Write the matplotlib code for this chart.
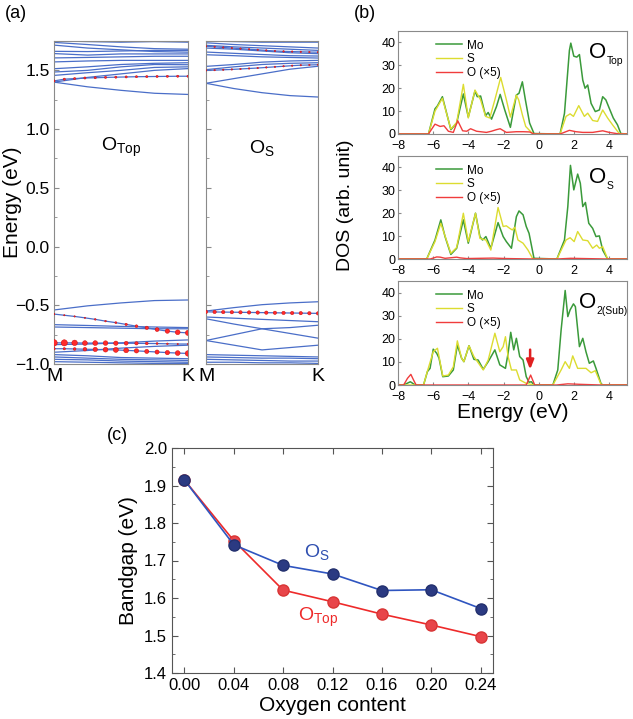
import numpy as np
import matplotlib
matplotlib.use("Agg")
import matplotlib.pyplot as plt
from matplotlib.ticker import MultipleLocator

plt.rcParams["font.family"] = ["Liberation Sans", "DejaVu Sans"]
plt.rcParams["mathtext.fontset"] = "custom"
plt.rcParams["mathtext.rm"] = "Liberation Sans"
plt.rcParams["mathtext.it"] = "Liberation Sans:italic"

# ---------------- (a) band structures ----------------
K5 = [0, 0.25, 0.5, 0.75, 1.0]
K14 = np.linspace(0, 1, 14)

BANDS_TOP = [
    [1.40, 1.36, 1.33, 1.305, 1.295],
    [1.40, 1.44, 1.47, 1.50, 1.515],
    [1.457, 1.48, 1.50, 1.525, 1.53],
    [1.486, 1.50, 1.53, 1.55, 1.548],
    [1.514, 1.53, 1.55, 1.56, 1.565],
    [1.572, 1.58, 1.585, 1.585, 1.585],
    [1.606, 1.61, 1.615, 1.62, 1.62],
    [1.643, 1.63, 1.64, 1.64, 1.64],
    [1.662, 1.66, 1.665, 1.67, 1.67],
    [1.715, 1.69, 1.675, 1.66, 1.655],
    [1.738, 1.72, 1.70, 1.685, 1.68],
    [1.752, 1.745, 1.74, 1.745, 1.74],
    [-0.54, -0.505, -0.48, -0.46, -0.455],
    [-0.665, -0.672, -0.68, -0.685, -0.69],
    [-0.685, -0.69, -0.695, -0.70, -0.70],
    [-0.835, -0.83, -0.82, -0.805, -0.795],
    [-0.90, -0.885, -0.865, -0.85, -0.84],
    [-0.92, -0.93, -0.945, -0.95, -0.955],
    [-0.94, -0.95, -0.96, -0.965, -0.97],
    [-0.96, -0.965, -0.975, -0.98, -0.985],
    [-0.98, -0.985, -0.99, -0.995, -0.995],
]
WBANDS_TOP = [
    [1.41, 1.425, 1.43, 1.435, 1.437, 1.44, 1.442, 1.444, 1.446, 1.447, 1.448, 1.449, 1.45, 1.45],
    [-0.575, -0.585, -0.595, -0.607, -0.62, -0.635, -0.648, -0.663, -0.678, -0.692, -0.707, -0.72, -0.73, -0.735],
    [-0.82, -0.82, -0.82, -0.822, -0.822, -0.822, -0.823, -0.823, -0.824, -0.825, -0.826, -0.828, -0.83, -0.83],
    [-0.87, -0.87, -0.872, -0.874, -0.876, -0.878, -0.88, -0.884, -0.888, -0.893, -0.898, -0.903, -0.907, -0.91],
]
WSIZE_TOP = [
    [2.5] * 14,
    [1.5, 1, 1, 1, 1.5, 1.5, 2, 3, 4, 6, 8, 10, 12, 14],
    [22, 20, 16, 12, 12, 11, 10, 8, 6, 4, 2, 1.5, 1, 1],
    [3, 3, 4, 7, 10, 12, 13, 12, 10, 9, 9, 10, 12, 16],
]

BANDS_S = [
    [1.39, 1.345, 1.31, 1.285, 1.273],
    [1.39, 1.43, 1.47, 1.51, 1.535],
    [1.506, 1.53, 1.55, 1.56, 1.565],
    [1.534, 1.55, 1.57, 1.58, 1.585],
    [1.633, 1.625, 1.615, 1.61, 1.605],
    [1.656, 1.645, 1.635, 1.625, 1.622],
    [1.69, 1.68, 1.665, 1.65, 1.642],
    [1.713, 1.70, 1.69, 1.68, 1.67],
    [1.735, 1.72, 1.71, 1.70, 1.69],
    [1.75, 1.745, 1.74, 1.74, 1.74],
    [-0.549, -0.52, -0.495, -0.48, -0.47],
    [-0.60, -0.61, -0.62, -0.63, -0.64],
    [-0.615, -0.66, -0.70, -0.69, -0.67],
    [-0.80, -0.75, -0.70, -0.74, -0.78],
    [-0.80, -0.84, -0.88, -0.86, -0.84],
    [-0.92, -0.925, -0.93, -0.935, -0.94],
    [-0.94, -0.945, -0.95, -0.95, -0.955],
    [-0.96, -0.965, -0.97, -0.975, -0.975],
    [-0.985, -0.985, -0.99, -0.99, -0.995],
]
WBANDS_S = [
    [1.50, 1.502, 1.505, 1.508, 1.512, 1.516, 1.52, 1.525, 1.53, 1.535, 1.54, 1.544, 1.546, 1.548],
    [1.705, 1.70, 1.695, 1.69, 1.685, 1.68, 1.675, 1.67, 1.665, 1.662, 1.66, 1.658, 1.656, 1.655],
    [-0.556, -0.557, -0.558, -0.559, -0.56, -0.561, -0.562, -0.563, -0.564, -0.565, -0.566, -0.567, -0.568, -0.569],
]
WSIZE_S = [
    [1.2] * 14,
    [1.2] * 14,
    [6] * 14,
]

# ---------------- (b) DOS ----------------
MO1_E = [-8, -6.27, -5.9, -5.76, -5.48, -5.0, -4.67, -4.29, -4.01, -3.63, -3.5, -3.31, -3.03, -2.88, -2.69, -2.41, -2.2, -1.94, -1.62, -1.28, -1.13, -0.94, -0.77, -0.53, -0.28,
         1.2, 1.45, 1.73, 1.81, 1.98, 2.15, 2.3, 2.49, 2.62, 2.77, 2.96, 3.2, 3.43, 3.62, 3.8, 3.99, 4.22, 4.46, 4.65, 5]
MO1_V = [0, 0, 11, 12.3, 16.3, 1.9, 4.8, 17.5, 7.4, 18.8, 16.3, 16.6, 8, 9.4, 6.5, 12, 17.3, 10.5, 2.9, 17, 17.8, 22.8, 15, 4.8, 0.2,
         0, 9, 36.5, 39.7, 34, 33.6, 34.7, 23.5, 20, 21.4, 13.4, 9.8, 10.5, 16.3, 14.9, 11.3, 7, 4, 0.2, 0]
S1_E = [-8, -6.27, -5.9, -5.48, -5.0, -4.67, -4.29, -4.01, -3.63, -3.31, -3.03, -2.79, -2.5, -2.17, -1.85, -1.62, -1.28, -1.15, -0.94, -0.75, -0.34,
        1.2, 1.54, 1.77, 1.96, 2.26, 2.58, 2.77, 3.05, 3.33, 3.62, 3.9, 4.18, 4.56, 5]
S1_V = [0, 0, 10, 15.6, 2.2, 5, 21.7, 7, 19.2, 14.9, 7.7, 7, 15, 24.7, 15, 7.4, 17, 14.9, 8.4, 3.3, 0,
        0, 7.7, 8.8, 7.7, 12.4, 7.7, 9.1, 5.9, 5.5, 10.5, 7, 4, 0.2, 0]
O1_E = [-8, -6.27, -5.9, -5.61, -5.39, -5.14, -4.86, -4.61, -4.33, -4.1, -3.88, -3.54, -2.98, -2.7, -2.41, -2.2, -1.85, -1.28, -0.9, -0.53, -0.28,
        1.2, 1.73, 2.1, 2.49, 3.05, 3.62, 3.99, 4.56, 5]
O1_V = [0, 0, 4.3, 3.3, 3.6, 1.2, 0.7, 5.8, 1.4, 1.2, 2.3, 1.2, 0.7, 1.2, 1.9, 2.3, 0.7, 1, 1, 0.9, 0,
        0, 1.6, 1, 0.7, 0.7, 1.4, 0.7, 0, 0]

MO2_E = [-8, -6.37, -5.9, -5.57, -5.33, -5.0, -4.67, -4.29, -4.01, -3.6, -3.35, -3.2, -3.01, -2.73, -2.32, -2.03, -1.85, -1.56, -1.28, -1.13, -0.9, -0.72, -0.56, -0.28,
         1.02, 1.45, 1.64, 1.79, 1.98, 2.2, 2.35, 2.49, 2.64, 2.83, 3.05, 3.24, 3.43, 3.62, 3.9, 5]
MO2_V = [0, 0, 8.3, 17.1, 9.8, 2, 4.7, 17.1, 6.9, 20, 9.8, 8.3, 9.8, 4.7, 15.9, 9.8, 7.6, 4.7, 18.5, 21, 19.3, 14.2, 11.2, 0.3,
         0, 8.3, 22.9, 40.9, 30.2, 37.1, 33.1, 22.9, 24.7, 15.6, 13.4, 9.8, 10.1, 3.9, 0, 0]
S2_E = [-8, -6.37, -5.9, -5.57, -5.0, -4.67, -4.29, -4.01, -3.6, -3.35, -3.01, -2.73, -2.32, -2.03, -1.85, -1.66, -1.51, -1.37, -1.19, -0.9, -0.62, -0.34,
        1.02, 1.54, 1.77, 2.0, 2.2, 2.49, 2.77, 3.05, 3.28, 3.43, 3.62, 3.9, 5]
S2_V = [0, 0, 7.6, 15.6, 2.5, 5, 20, 7.6, 20, 9, 8.3, 3.9, 22.5, 14.2, 14.5, 13.4, 12.7, 13.9, 8.3, 6.9, 3.9, 0,
        0, 8.3, 9.3, 7.6, 12, 8.3, 8, 4.7, 6.1, 4.7, 5.4, 0, 0]
O2_E = [-8, -6.17, -5.8, -5.6, -5.33, -4.67, -4.48, -4.1, -2.6, -1.85, -0.28, 1.02, 1.8, 2.5, 3.9, 5]
O2_V = [0, 0, 0.9, 0.8, 0.3, 0.8, 0.5, 0.2, 0.4, 0.2, 0, 0, 0.3, 0.2, 0, 0]

MO3_E = [-8, -7.68, -7.3, -7.02, -6.55, -6.33, -6.18, -6.0, -5.8, -5.67, -5.46, -5.14, -4.86, -4.63, -4.39, -4.26, -3.97, -3.69, -3.45, -3.16, -2.88, -2.5, -2.22, -1.9, -1.75, -1.6, -1.43, -1.28, -1.09, -0.9, -0.72, -0.56, -0.43, -0.28,
         0.79, 1.07, 1.26, 1.49, 1.64, 1.77, 1.96, 2.07, 2.3, 2.49, 2.67, 2.86, 3.09, 3.24, 3.52, 3.62, 5]
MO3_V = [0, 0, 1.4, 0, 0, 5.8, 7.2, 15.5, 13.7, 11.6, 3.6, 3.9, 6.5, 17.3, 11.6, 10.1, 17, 11.1, 10.8, 6.8, 10.1, 15.2, 8.7, 7.2, 13.7, 22.8, 15.2, 20.2, 12.3, 10.8, 3.6, 1.2, 1.4, 0,
         0, 6.5, 23.8, 40.9, 29.6, 32.5, 35.1, 33.9, 16.6, 20.2, 14.4, 9.4, 10.4, 7.2, 0.7, 0, 0]
S3_E = [-8, -6.55, -6.33, -6.0, -5.76, -5.46, -5.14, -4.86, -4.63, -4.39, -4.26, -3.97, -3.69, -3.16, -2.88, -2.5, -2.22, -2.03, -1.9, -1.75, -1.56, -1.28, -1.09, -0.72, -0.28,
        0.79, 1.26, 1.49, 1.73, 1.92, 2.2, 2.67, 2.96, 3.2, 3.52, 3.62, 5]
S3_V = [0, 0, 6, 14.4, 15.9, 3.9, 4.3, 7.9, 19.1, 11.6, 10.1, 17, 12.3, 6.5, 10.8, 22.4, 14.4, 16.6, 20.9, 12.3, 6.5, 6.5, 2.2, 0.7, 0,
        0, 6.5, 10.1, 7.2, 12.6, 7.2, 7.2, 5.3, 6.2, 0.4, 0, 0]
O3_E = [-8, -7.68, -7.46, -7.27, -7.12, -6.97, -0.72, -0.47, -0.24, 1.0, 1.64, 2.3, 3.5, 5]
O3_V = [0, 0, 2.9, 4.6, 2.2, 0, 0, 4.3, 0, 0, 0.5, 0.3, 0, 0]

DOS_PANELS = [
    (MO1_E, MO1_V, S1_E, S1_V, O1_E, O1_V, "Top"),
    (MO2_E, MO2_V, S2_E, S2_V, O2_E, O2_V, "S"),
    (MO3_E, MO3_V, S3_E, S3_V, O3_E, O3_V, "2(Sub)"),
]
DOS_LABEL_X = [0.835, 0.835, 0.79]

# ---------------- (c) bandgap ----------------
OXYGEN = [0.00, 0.04, 0.08, 0.12, 0.16, 0.20, 0.24]
GAP_S = [1.915, 1.742, 1.687, 1.664, 1.620, 1.622, 1.572]
GAP_TOP = [1.915, 1.753, 1.621, 1.590, 1.557, 1.528, 1.497]

W, H = 633, 719
fig = plt.figure(figsize=(W / 100, H / 100), dpi=100)


def px_axes(x0, y0, x1, y1):
    return fig.add_axes([x0 / W, 1 - y1 / H, (x1 - x0) / W, (y1 - y0) / H])


BLUE = "#4a6ec8"
RED_DOT = "#ff2a2a"
SPINE = "#8a8a8a"

band_axes = [px_axes(54, 41, 188, 364), px_axes(206, 41, 318, 364)]
for ax, bands, wbands, wsizes, label in [
    (band_axes[0], BANDS_TOP, WBANDS_TOP, WSIZE_TOP, r"O$_{\mathrm{Top}}$"),
    (band_axes[1], BANDS_S, WBANDS_S, WSIZE_S, r"O$_{\mathrm{S}}$"),
]:
    for b in bands:
        ax.plot(K5, b, color=BLUE, lw=0.9)
    for b, s in zip(wbands, wsizes):
        ax.plot(K14, b, color=BLUE, lw=0.9)
        ax.scatter(K14, b, s=s, color=RED_DOT, edgecolors="#cc0000", linewidths=0.3, zorder=3)
    ax.set_xlim(0, 1)
    ax.set_ylim(-1.0, 1.75)
    ax.set_xticks([0, 1], ["M", "K"])
    ax.tick_params(axis="x", length=0, labelsize=14, pad=3)
    ax.yaxis.set_major_locator(MultipleLocator(0.5))
    ax.yaxis.set_minor_locator(MultipleLocator(0.25))
    ax.tick_params(axis="y", which="both", direction="in", labelsize=12.5, color=SPINE, pad=3)
    for sp in ax.spines.values():
        sp.set_color(SPINE)
    ax.text(0.5, 0.67, label, transform=ax.transAxes, ha="center", va="center", fontsize=14)
band_axes[1].tick_params(axis="y", labelleft=False)
fig.text(13 / W, 1 - 202 / H, "Energy (eV)", rotation=90, ha="center", va="center", fontsize=15)

# DOS panels
GREEN = "#3a9a3a"
YELLOW = "#dcdc30"
RED = "#f03c3c"
dos_rows = [(31, 134), (156, 259), (281, 385)]
dos_axes = []
for (top, bot), (me, mv, se, sv, oe, ov, sub), lx in zip(dos_rows, DOS_PANELS, DOS_LABEL_X):
    ax = px_axes(398, top, 627, bot)
    ax.plot(me, mv, color=GREEN, lw=1.1, label="Mo")
    ax.plot(se, sv, color=YELLOW, lw=1.0, label="S")
    ax.plot(oe, ov, color=RED, lw=1.0, label="O (×5)")
    ax.set_xlim(-8, 5)
    ax.set_ylim(0, 45)
    ax.set_xticks([-8, -6, -4, -2, 0, 2, 4])
    ax.set_yticks([0, 10, 20, 30, 40])
    ax.tick_params(direction="in", length=2.5, labelsize=9, color=SPINE)
    ax.tick_params(axis="x", pad=4.5)
    ax.tick_params(axis="y", pad=2)
    for sp in ax.spines.values():
        sp.set_color(SPINE)
    ax.legend(loc="upper left", bbox_to_anchor=(0.12, 1.02), frameon=False, fontsize=8.5,
              handlelength=2.2, handletextpad=0.4, labelspacing=0.15)
    o_txt = ax.text(lx, 0.79, "O", transform=ax.transAxes, ha="left", va="center", fontsize=16)
    ax.annotate(sub, xy=(1.0, 0.1), xycoords=o_txt, ha="left", va="center", fontsize=7.5)
    dos_axes.append(ax)
dos_axes[2].annotate("", xy=(-0.5, 5.5), xytext=(-0.5, 16.5),
                     arrowprops=dict(arrowstyle="-|>,head_width=0.22,head_length=0.55", color="#e02020", lw=1.8))
dos_axes[2].set_xlabel("Energy (eV)", fontsize=15, labelpad=0)
fig.text(345 / W, 1 - 205 / H, "DOS (arb. unit)", rotation=90, ha="center", va="center", fontsize=14)

# (c) bandgap
axc = px_axes(172, 448, 493, 673)
axc.plot(OXYGEN, GAP_TOP, "-o", color="#ee2a2a", lw=1.2, ms=8, mfc="#e8454a", mec="#d83535", zorder=2)
axc.plot(OXYGEN, GAP_S, "-o", color="#2f55c0", lw=1.2, ms=8, mfc="#2b3a82", mec="#23306e", zorder=3)
axc.set_xlim(-0.01, 0.25)
axc.set_ylim(1.4, 2.0)
axc.set_xticks(OXYGEN, [f"{v:.2f}" for v in OXYGEN])
axc.yaxis.set_major_locator(MultipleLocator(0.1))
axc.yaxis.set_minor_locator(MultipleLocator(0.05))
axc.tick_params(which="both", direction="in", top=True, right=True, labelsize=12, color="#555555")
axc.tick_params(which="major", length=4)
axc.tick_params(which="minor", length=2.5)
for sp in axc.spines.values():
    sp.set_color("#555555")
axc.set_xlabel("Oxygen content", fontsize=15, labelpad=2)
axc.set_ylabel("Bandgap (eV)", fontsize=15, labelpad=4)
axc.text(0.107, 1.722, r"O$_{\mathrm{S}}$", color="#2f4fb0", fontsize=14, ha="center", va="center")
axc.text(0.108, 1.547, r"O$_{\mathrm{Top}}$", color="#ee2a2a", fontsize=14, ha="center", va="center")

fig.text(16 / W, 1 - 13 / H, "(a)", fontsize=13, ha="center", va="center")
fig.text(365 / W, 1 - 13 / H, "(b)", fontsize=13, ha="center", va="center")
fig.text(117 / W, 1 - 436 / H, "(c)", fontsize=13, ha="center", va="center")

fig.savefig("out.png", dpi=100)
